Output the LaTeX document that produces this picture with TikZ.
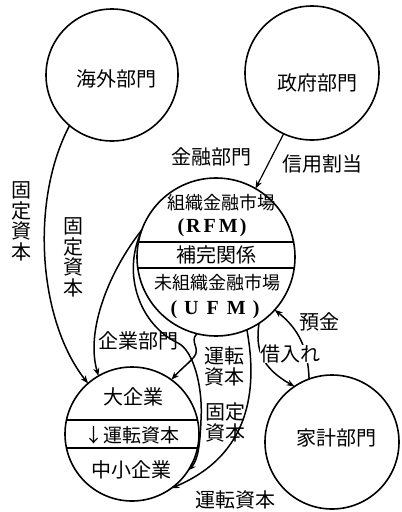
\documentclass[tikz,border=0pt]{standalone}
\usepackage{fontspec}
\setmainfont{Noto Sans CJK JP}
\newfontfamily\lat{Liberation Serif}
\usetikzlibrary{arrows.meta}
\begin{document}
\begin{tikzpicture}[x=1pt,y=-1pt,
  every node/.style={font=\fontsize{20}{21}\selectfont, inner sep=1pt},
  sector/.style={circle, draw, line width=1.6pt, outer sep=0pt, inner sep=0pt},
  flow/.style={line width=1.5pt, -{Stealth[length=8pt,width=6pt]}},
  vlbl/.style={align=center, font=\fontsize{20}{20.5}\selectfont},
  twol/.style={align=center, font=\fontsize{20}{21}\selectfont},
  small/.style={font=\fontsize{18}{21}\selectfont},
  part/.style={line width=1.2pt},
  cover/.style={fill=white, inner sep=0pt}]
\useasboundingbox (0,0) rectangle (402,512);

% sectors
\node[sector, minimum size=132pt] (kaigai) at (112,75) {};
\node[sector, minimum size=134pt] (seifu) at (312,73) {};
\node[sector, minimum size=158pt] (rfm) at (216,257) {};
\node[sector, minimum size=134pt] (dai) at (132,434) {};
\node[sector, minimum size=134pt] (kakei) at (332,442) {};

% partitions
\draw[part] (rfm.169) -- (rfm.11);
\draw[part] (rfm.188) -- (rfm.-8);
\draw[part] (dai.168) -- (dai.12);
\draw[part] (dai.192) -- (dai.-12);

% connectors
\draw[flow, line width=1.2pt] (seifu.-115) -- (rfm.60);
\draw[flow] (kaigai.230) .. controls (30,200) and (38,320) .. (dai.131);
\draw[flow] (rfm.160) .. controls (110,270) and (85,330) .. (dai.120);
\draw[flow] (rfm.162) .. controls (122,275) and (140,325) .. (178,343)
  .. controls (194,351) and (203,388) .. (201,420)
  .. controls (200,445) and (198,460) .. (dai.-33);
\draw[flow] (rfm.-104) .. controls (189,342) and (201,348) .. (194,357)
  .. controls (188,364) and (182,368) .. (dai.54);
\draw[flow] (rfm.-67) .. controls (258,390) and (250,455) .. (dai.-54);
\draw[flow] (rfm.-57) .. controls (255,350) and (262,368) .. (kakei.124);
\draw[flow] (kakei.110) .. controls (308,350) and (300,330) .. (rfm.-42);

% texts in sectors
\node (kaigaiL) at (116,79) {海外部門};
\node (seifuL) at (317,83) {政府部門};
\node (kakeiL) at (336,438) {家計部門};
\node[small] (rfmA) at (221,203) {組織金融市場};
\node (rfmB) at (212,228) {{\lat\bfseries(\kern2pt R\kern3pt F\kern3pt M\kern2pt)}};
\node (rfmC) at (216,255) {補完関係};
\node[small] (rfmD) at (217,283) {未組織金融市場};
\node (rfmE) at (215,310) {{\lat\bfseries(\kern7pt U\kern8pt F\kern8pt M\kern7pt)}};
\node (daiA) at (133,397) {大企業};
\node[font=\fontsize{19}{21}\selectfont] (daiB) at (132,435) {↓運転資本};
\node (daiC) at (131,470) {中小企業};

% labels
\node (kinyu) at (211,157) {金融部門};
\node (shinyo) at (322,164) {信用割当};
\node (kigyo) at (138,341) {企業部門};
\node[twol] (unten1) at (224,366.5) {運転\\資本};
\node[twol] (kotei1) at (225,422.5) {固定\\資本};
\node[cover] (kariire) at (290,354) {借入れ};
\node (yokin) at (319,322) {預金};
\node (unten2) at (235,500) {運転資本};
\node[vlbl] (kotei2) at (22,221.5) {固\\定\\資\\本};
\node[vlbl] (kotei3) at (73,257.5) {固\\定\\資\\本};
\end{tikzpicture}
\end{document}
